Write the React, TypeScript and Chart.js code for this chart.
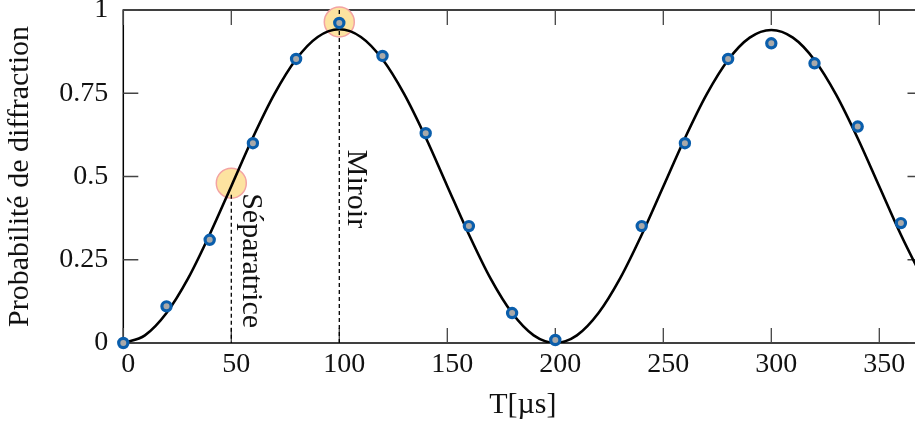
import { useEffect, useRef } from "react";
import { Chart, registerables } from "chart.js";

Chart.register(...registerables);

// ---- data ----
const curveT = [0, 10, 20, 30, 40, 50, 60, 70, 80, 90, 100, 110, 120, 130, 140, 150, 160, 170, 180, 190, 200, 210, 220, 230, 240, 250, 260, 270, 280, 290, 300, 310, 320, 330, 340, 350, 360, 370];
const curveP = [0, 0.023, 0.09, 0.194, 0.326, 0.471, 0.617, 0.748, 0.852, 0.919, 0.942, 0.919, 0.852, 0.748, 0.617, 0.471, 0.326, 0.194, 0.09, 0.023, 0, 0.023, 0.09, 0.194, 0.325, 0.47, 0.615, 0.746, 0.85, 0.917, 0.94, 0.917, 0.85, 0.746, 0.615, 0.47, 0.325, 0.194];

const measT = [0, 20, 40, 60, 80, 100, 120, 140, 160, 180, 200, 240, 260, 280, 300, 320, 340, 360];
const measP = [0, 0.11, 0.31, 0.6, 0.853, 0.961, 0.862, 0.63, 0.351, 0.09, 0.009, 0.351, 0.6, 0.853, 0.9, 0.84, 0.65, 0.36];

const markT = [50, 100];
const markP = [0.48, 0.964];

const sepLineT = [50, 50];
const sepLineP = [0.445, 0];
const mirLineT = [100, 100];
const mirLineP = [1, 0];

const xTicks = [0, 50, 100, 150, 200, 250, 300, 350];
const yTicks = [0, 0.25, 0.5, 0.75, 1];
const xMin = 0;
const xMax = 370;
const yMin = 0;
const yMax = 1;

const xTitle = "T[µs]";
const yTitle = "Probabilité de diffraction";

const annotLabels = ["Séparatrice", "Miroir"];
const annotT = [50, 100];
const annotP = [0.45, 0.58];

// ---- styles ----
const FONT = "'Liberation Serif', 'Times New Roman', serif";
const FS = 28;
const FT = 30;
const annotDx = [12, 9];

const pts = (xs: number[], ys: number[]) => xs.map((x, i) => ({ x, y: ys[i] }));

const framePlugin = {
  id: "frame",
  beforeDatasetsDraw(chart: any) {
    const { ctx, chartArea, scales } = chart;
    const { left, right, top, bottom } = chartArea;
    const x = scales.x;
    const y = scales.y;
    ctx.save();
    ctx.strokeStyle = "#000";
    ctx.lineWidth = 1.5;
    ctx.strokeRect(left, top, right - left, bottom - top);
    ctx.strokeStyle = "#444";
    ctx.lineWidth = 1.3;
    ctx.beginPath();
    const L = 15;
    for (const v of xTicks) {
      const px = x.getPixelForValue(v);
      ctx.moveTo(px, bottom);
      ctx.lineTo(px, bottom - L);
      ctx.moveTo(px, top);
      ctx.lineTo(px, top + L);
    }
    for (const v of yTicks) {
      const py = y.getPixelForValue(v);
      ctx.moveTo(left, py);
      ctx.lineTo(left + L, py);
      ctx.moveTo(right, py);
      ctx.lineTo(right - L, py);
    }
    ctx.stroke();
    ctx.restore();
  },
  afterDatasetsDraw(chart: any) {
    const { ctx, scales } = chart;
    ctx.save();
    ctx.fillStyle = "#111";
    ctx.font = `${FT}px ${FONT}`;
    ctx.textAlign = "left";
    ctx.textBaseline = "alphabetic";
    annotLabels.forEach((txt, i) => {
      const px = scales.x.getPixelForValue(annotT[i]) + annotDx[i];
      const py = scales.y.getPixelForValue(annotP[i]);
      ctx.save();
      ctx.translate(px, py);
      ctx.rotate(Math.PI / 2);
      ctx.fillText(txt, 0, 0);
      ctx.restore();
    });
    ctx.restore();
  },
};

export default function App() {
  const ref = useRef<HTMLCanvasElement | null>(null);

  useEffect(() => {
    if (!ref.current) return;
    const chart = new Chart(ref.current, {
      type: "line",
      data: {
        datasets: [
          {
            type: "scatter",
            label: "mesures",
            data: pts(measT, measP),
            showLine: false,
            pointRadius: 4.6,
            pointBorderWidth: 3.2,
            pointBorderColor: "#0a5eac",
            pointBackgroundColor: "#a9a9a9",
            clip: false,
          } as any,
          {
            label: "ajustement",
            data: pts(curveT, curveP),
            borderColor: "#000",
            borderWidth: 2.6,
            pointRadius: 0,
            fill: false,
            cubicInterpolationMode: "monotone",
          },
          {
            label: "sep",
            data: pts(sepLineT, sepLineP),
            borderColor: "#000",
            borderWidth: 1.3,
            borderDash: [4, 3],
            pointRadius: 0,
            fill: false,
          },
          {
            label: "mir",
            data: pts(mirLineT, mirLineP),
            borderColor: "#000",
            borderWidth: 1.3,
            borderDash: [4, 3],
            pointRadius: 0,
            fill: false,
          },
          {
            type: "scatter",
            label: "marques",
            data: pts(markT, markP),
            showLine: false,
            pointRadius: 15,
            pointBorderWidth: 1.5,
            pointBorderColor: "#f3a3a3",
            pointBackgroundColor: "#fde3a0",
            clip: false,
          } as any,
        ],
      },
      options: {
        animation: false,
        responsive: false,
        maintainAspectRatio: false,
        layout: { autoPadding: false, padding: { top: 10, right: 12.5, left: 0, bottom: 0 } },
        plugins: {
          legend: { display: false },
          tooltip: { enabled: false },
        },
        scales: {
          x: {
            type: "linear",
            min: xMin,
            max: xMax,
            grid: { display: false, drawTicks: false },
            border: { display: false },
            afterBuildTicks: (s: any) => {
              s.ticks = xTicks.map((v) => ({ value: v }));
            },
            afterFit: (s: any) => {
              s.height = 84;
              s.paddingLeft = 0;
              s.paddingRight = 0;
              s.paddingTop = 0;
              s.paddingBottom = 0;
            },
            ticks: {
              padding: 5,
              labelOffset: 5,
              maxRotation: 0,
              autoSkip: false,
              color: "#111",
              font: { family: FONT, size: FS },
              callback: (v: any) => String(v),
            },
            title: {
              display: true,
              text: xTitle,
              color: "#111",
              font: { family: FONT, size: FT },
              padding: { top: 0, bottom: 4 },
            },
          },
          y: {
            type: "linear",
            min: yMin,
            max: yMax,
            grid: { display: false, drawTicks: false },
            border: { display: false },
            afterBuildTicks: (s: any) => {
              s.ticks = yTicks.map((v) => ({ value: v }));
            },
            afterFit: (s: any) => {
              s.width = 123.3;
              s.paddingLeft = 0;
              s.paddingRight = 0;
              s.paddingTop = 0;
              s.paddingBottom = 0;
            },
            ticks: {
              padding: 15,
              autoSkip: false,
              color: "#111",
              font: { family: FONT, size: FS },
              callback: (v: any) => String(v),
            },
            title: {
              display: true,
              text: yTitle,
              color: "#111",
              font: { family: FONT, size: FT },
              padding: { top: 2, bottom: 0 },
            },
          },
        },
      },
      plugins: [framePlugin],
    });
    return () => chart.destroy();
  }, []);

  return (
    <div
      style={{
        position: "fixed",
        left: 0,
        top: 0,
        width: 915,
        height: 427,
        overflow: "hidden",
        background: "#fff",
      }}
    >
      <canvas ref={ref} width={935} height={427} style={{ display: "block" }} />
    </div>
  );
}
